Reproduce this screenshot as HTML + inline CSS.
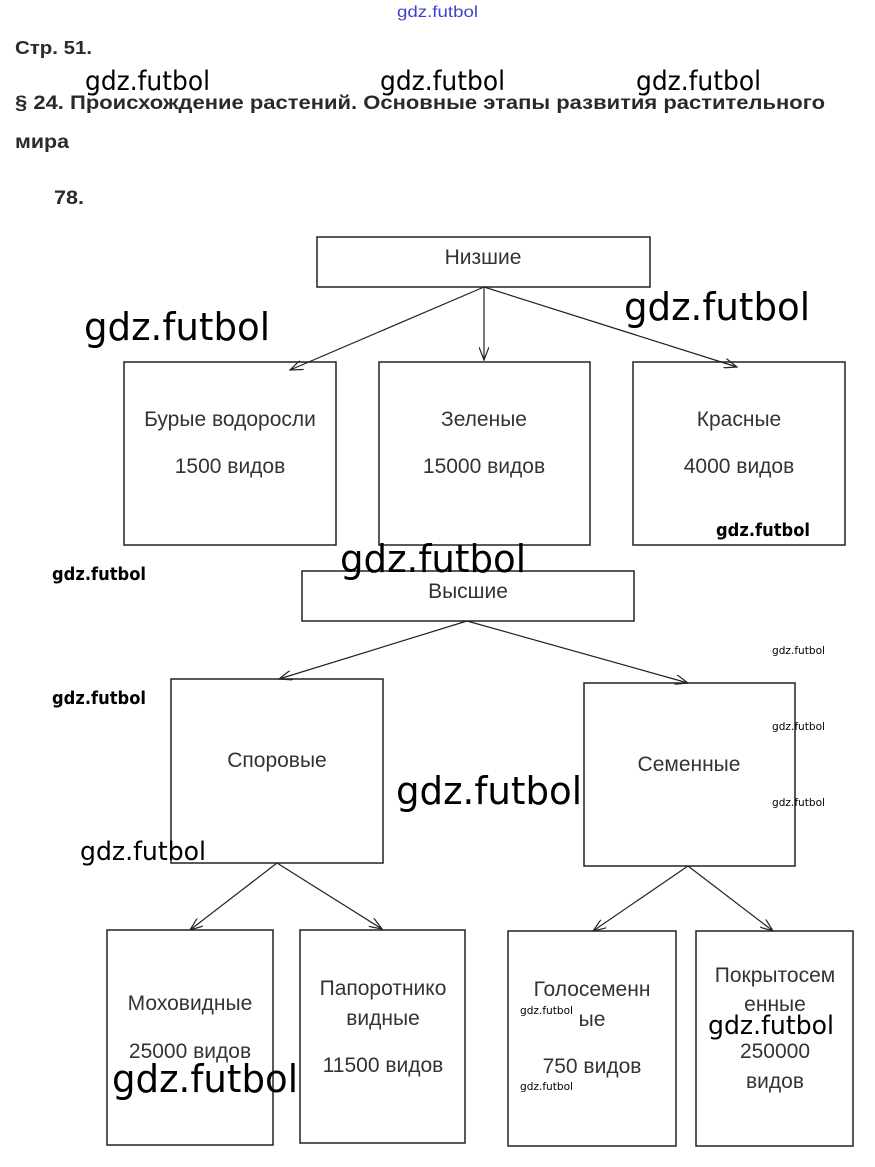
<!DOCTYPE html>
<html><head><meta charset="utf-8"><style>
html,body{margin:0;padding:0;background:#fff;width:875px;height:1167px;overflow:hidden}
svg{display:block}
.h{font-family:"Liberation Sans",sans-serif;font-weight:bold;fill:#2a2a2a}
.t{font-family:"Liberation Sans",sans-serif;font-size:21px;fill:#333;text-anchor:middle}
.w{font-family:"DejaVu Sans",sans-serif;fill:#000}
rect{fill:#fff;stroke:#222;stroke-width:1.5}
line{stroke:#222;stroke-width:1.2}
</style></head><body>
<svg width="875" height="1167" viewBox="0 0 875 1167" xmlns="http://www.w3.org/2000/svg">
<defs><marker id="a" markerWidth="14" markerHeight="10" refX="13" refY="5" orient="auto" markerUnits="userSpaceOnUse"><path d="M0,0 L13,5 L0,10" fill="none" stroke="#222" stroke-width="1.2"/></marker></defs>
<text x="397" y="17" font-family="Liberation Sans,sans-serif" font-size="16" fill="#4040d0" textLength="81" lengthAdjust="spacingAndGlyphs">gdz.futbol</text>
<text class="h" x="15" y="54" font-size="18" textLength="77" lengthAdjust="spacingAndGlyphs">Стр. 51.</text>
<text class="h" x="15" y="109" font-size="19" textLength="810" lengthAdjust="spacingAndGlyphs">§ 24. Происхождение растений. Основные этапы развития растительного</text>
<text class="h" x="15" y="148" font-size="19" textLength="54" lengthAdjust="spacingAndGlyphs">мира</text>
<text class="h" x="54" y="204" font-size="19" textLength="30" lengthAdjust="spacingAndGlyphs">78.</text>

<rect x="317" y="237" width="333" height="50"/>
<text class="t" x="483" y="264">Низшие</text>
<rect x="124" y="362" width="212" height="183"/>
<text class="t" x="230" y="426">Бурые водоросли</text><text class="t" x="230" y="473">1500 видов</text>
<rect x="379" y="362" width="211" height="183"/>
<text class="t" x="484" y="426">Зеленые</text><text class="t" x="484" y="473">15000 видов</text>
<rect x="633" y="362" width="212" height="183"/>
<text class="t" x="739" y="426">Красные</text><text class="t" x="739" y="473">4000 видов</text>
<line x1="484" y1="287" x2="290" y2="370" marker-end="url(#a)"/>
<line x1="484" y1="287" x2="484" y2="360" marker-end="url(#a)"/>
<line x1="484" y1="287" x2="737" y2="367" marker-end="url(#a)"/>

<rect x="302" y="571" width="332" height="50"/>
<text class="t" x="468" y="598">Высшие</text>
<rect x="171" y="679" width="212" height="184"/>
<text class="t" x="277" y="767">Споровые</text>
<rect x="584" y="683" width="211" height="183"/>
<text class="t" x="689" y="771">Семенные</text>
<line x1="467" y1="621" x2="279" y2="679" marker-end="url(#a)"/>
<line x1="467" y1="621" x2="688" y2="683" marker-end="url(#a)"/>
<line x1="277" y1="863" x2="190" y2="930" marker-end="url(#a)"/>
<line x1="277" y1="863" x2="382" y2="929" marker-end="url(#a)"/>
<line x1="688" y1="866" x2="593" y2="931" marker-end="url(#a)"/>
<line x1="688" y1="866" x2="773" y2="931" marker-end="url(#a)"/>

<rect x="107" y="930" width="166" height="215"/>
<text class="t" x="190" y="1010">Моховидные</text><text class="t" x="190" y="1058">25000 видов</text>
<rect x="300" y="930" width="165" height="213"/>
<text class="t" x="383" y="995">Папоротнико</text><text class="t" x="383" y="1025">видные</text><text class="t" x="383" y="1072">11500 видов</text>
<rect x="508" y="931" width="168" height="215"/>
<text class="t" x="592" y="996">Голосеменн</text><text class="t" x="592" y="1026">ые</text><text class="t" x="592" y="1073">750 видов</text>
<rect x="696" y="931" width="157" height="215"/>
<text class="t" x="775" y="982">Покрытосем</text><text class="t" x="775" y="1011">енные</text><text class="t" x="775" y="1058">250000</text><text class="t" x="775" y="1088">видов</text>

<text class="w" x="85" y="90" font-size="27" textLength="125" lengthAdjust="spacingAndGlyphs">gdz.futbol</text>
<text class="w" x="380" y="90" font-size="27" textLength="125" lengthAdjust="spacingAndGlyphs">gdz.futbol</text>
<text class="w" x="636" y="90" font-size="27" textLength="125" lengthAdjust="spacingAndGlyphs">gdz.futbol</text>
<text class="w" x="84" y="340" font-size="38" textLength="186" lengthAdjust="spacingAndGlyphs">gdz.futbol</text>
<text class="w" x="624" y="320" font-size="38" textLength="186" lengthAdjust="spacingAndGlyphs">gdz.futbol</text>
<text class="w" x="716" y="536" font-size="18" font-weight="bold" textLength="94" lengthAdjust="spacingAndGlyphs">gdz.futbol</text>
<text class="w" x="340" y="572" font-size="38" textLength="186" lengthAdjust="spacingAndGlyphs">gdz.futbol</text>
<text class="w" x="52" y="580" font-size="18" font-weight="bold" textLength="94" lengthAdjust="spacingAndGlyphs">gdz.futbol</text>
<text class="w" x="52" y="704" font-size="18" font-weight="bold" textLength="94" lengthAdjust="spacingAndGlyphs">gdz.futbol</text>
<text class="w" x="772" y="654" font-size="11" textLength="53" lengthAdjust="spacingAndGlyphs">gdz.futbol</text>
<text class="w" x="772" y="730" font-size="11" textLength="53" lengthAdjust="spacingAndGlyphs">gdz.futbol</text>
<text class="w" x="772" y="806" font-size="11" textLength="53" lengthAdjust="spacingAndGlyphs">gdz.futbol</text>
<text class="w" x="396" y="804" font-size="38" textLength="186" lengthAdjust="spacingAndGlyphs">gdz.futbol</text>
<text class="w" x="80" y="860" font-size="26" textLength="126" lengthAdjust="spacingAndGlyphs">gdz.futbol</text>
<text class="w" x="112" y="1092" font-size="38" textLength="186" lengthAdjust="spacingAndGlyphs">gdz.futbol</text>
<text class="w" x="708" y="1034" font-size="26" textLength="126" lengthAdjust="spacingAndGlyphs">gdz.futbol</text>
<text class="w" x="520" y="1014" font-size="11" textLength="53" lengthAdjust="spacingAndGlyphs">gdz.futbol</text>
<text class="w" x="520" y="1090" font-size="11" textLength="53" lengthAdjust="spacingAndGlyphs">gdz.futbol</text>
</svg>
</body></html>
